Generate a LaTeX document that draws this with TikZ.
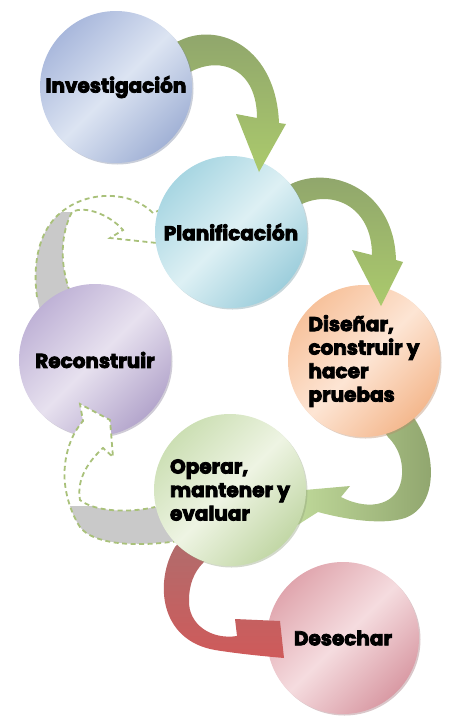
\documentclass[tikz,border=0pt]{standalone}
\usepackage{fontspec}
\setmainfont{Poppins}[BoldFeatures={FakeBold=4}]
\usetikzlibrary{shadows}
\definecolor{invA}{HTML}{A9B8DC}
\definecolor{invL}{HTML}{DCE4F2}
\definecolor{invD}{HTML}{A2B2D6}
\definecolor{plaA}{HTML}{A8D6E2}
\definecolor{plaL}{HTML}{DDF0F4}
\definecolor{plaD}{HTML}{9DCEDC}
\definecolor{desA}{HTML}{F7C29C}
\definecolor{desL}{HTML}{FDE5D4}
\definecolor{desD}{HTML}{F4B88E}
\definecolor{recA}{HTML}{BFB2D6}
\definecolor{recL}{HTML}{E7E1EF}
\definecolor{recD}{HTML}{B4A6CC}
\definecolor{opeA}{HTML}{CCDFB4}
\definecolor{opeL}{HTML}{EEF4E3}
\definecolor{opeD}{HTML}{C2D7A6}
\definecolor{dseA}{HTML}{E0A6AE}
\definecolor{dseL}{HTML}{F5DCDF}
\definecolor{dseD}{HTML}{D99AA4}
\definecolor{grnD}{HTML}{8EA36C}
\definecolor{grnL}{HTML}{ABCA6C}
\definecolor{grnP}{HTML}{C4DE9E}
\definecolor{redD}{HTML}{AE6E6E}
\definecolor{redL}{HTML}{CF5A5A}
\definecolor{ghostline}{HTML}{A9C17A}
\definecolor{ghostfill}{HTML}{C9C9C9}
\begin{document}
\begin{tikzpicture}[x=1pt,y=-1pt,
        bubble/.style n args={3}{circle,minimum size=152pt,inner sep=0pt,align=left,
            font=\bfseries\fontsize{20}{23.5}\selectfont,
            top color=#1,bottom color=#3,middle color=#2,shading angle=45,
            general shadow={fill=#3!75!black,opacity=.4,shadow xshift=1.5pt,shadow yshift=-1.5pt}},
        greenarrow/.style={top color=grnD,bottom color=grnL},
        ghost/.style={draw=ghostline,line width=1.8pt,dash pattern=on 5pt off 3.5pt}]

                \useasboundingbox (0,0) rectangle (456,724);

                \path[fill=white] (40,310) -- (37,297) .. controls (32,260) and (40,225) .. (67,208)
                    .. controls (90,192) and (130,190) .. (153,213) -- (167,207) -- (182,228) -- (157,243)
                    -- (110,238) -- (123,230) .. controls (110,215) and (85,205) .. (72,212)
                    .. controls (60,235) and (60,265) .. (70,292) -- (72,310) -- cycle;
                \begin{scope}
                    \clip (40,310) -- (37,297) .. controls (32,260) and (40,225) .. (67,208)
                        -- (72,212) .. controls (60,235) and (60,265) .. (70,292) -- (72,310) -- cycle;
                    \fill[ghostfill] (20,212) rectangle (100,320);
                \end{scope}
                \draw[ghost] (37,297) .. controls (32,260) and (40,225) .. (67,208)
                    .. controls (90,192) and (130,190) .. (153,213) -- (167,207) -- (182,228) -- (157,243)
                    -- (110,238) -- (123,230) .. controls (110,215) and (85,205) .. (72,212)
                    .. controls (60,235) and (60,265) .. (70,292);

                \node (rec) [bubble={recA}{recL}{recD}] at (95,360) {Reconstruir};

                \path[fill=white] (185,540) .. controls (130,548) and (92,543) .. (80,527)
                    .. controls (72,515) and (62,490) .. (65,465) .. controls (67,445) and (75,430) .. (83,421)
                    -- (80,404) -- (110,420) -- (113,457) -- (103,448)
                    .. controls (90,460) and (76,478) .. (80,500) .. controls (95,512) and (130,513) .. (155,507)
                    -- (165,503) -- cycle;
                \begin{scope}
                    \clip (185,540) .. controls (130,548) and (92,543) .. (80,527)
                        .. controls (72,515) and (62,490) .. (65,465) -- (80,500)
                        .. controls (95,512) and (130,513) .. (155,507) -- (165,503) -- cycle;
                    \fill[ghostfill] (60,506) rectangle (200,560);
                \end{scope}
                \draw[ghost] (178,541) .. controls (130,548) and (92,543) .. (80,527)
                    .. controls (72,515) and (62,490) .. (65,465) .. controls (67,445) and (75,430) .. (83,421)
                    -- (80,404) -- (110,420) -- (113,457) -- (103,448)
                    .. controls (90,460) and (76,478) .. (80,500) .. controls (95,512) and (130,513) .. (155,507);

                \shade[left color=grnP,right color=grnD] (405,410) -- (414,418)
                    .. controls (436,450) and (440,505) .. (405,518) .. controls (380,526) and (340,518) .. (318,512)
                    -- (296,526) -- (282,492) -- (350,486) -- (341,497)
                    .. controls (370,512) and (400,505) .. (402,475) .. controls (403,460) and (398,447) .. (388,437)
                    -- (380,425) -- cycle;

                \node (dse) [bubble={dseA}{dseL}{dseD}] at (343,638) {Desechar};

                \shade[top color=redD,bottom color=redL] (190,530) -- (175,547)
                    .. controls (155,580) and (158,640) .. (215,650) .. controls (240,654) and (262,656) .. (284,658)
                    -- (280,621) -- (235,619) -- (237,636)
                    .. controls (212,640) and (188,625) .. (189,600) .. controls (189,585) and (194,572) .. (203,563)
                    -- (212,552) -- cycle;

                \node (ope) [bubble={opeA}{opeL}{opeD}] at (230,490) {Operar,\\mantener y\\evaluar};
                \node (dis) [bubble={desA}{desL}{desD}] at (364,361) {Diseñar,\\construir y\\hacer\\pruebas};

                \shade[greenarrow] (283,190) -- (291,184) .. controls (330,165) and (394,188) .. (396,260)
                    -- (403,262) -- (381,306) -- (352,250) -- (372,255)
                    .. controls (372,205) and (330,188) .. (298,206) -- (290,210) -- cycle;

                \node (pla) [bubble={plaA}{plaL}{plaD}] at (231,232) {Planificación};

                \shade[greenarrow] (172,44) -- (181,40) .. controls (220,22) and (276,48) .. (279,123)
                    -- (286,124) -- (259,172) -- (236,114) -- (257,118)
                    .. controls (257,70) and (222,55) .. (190,72) -- (180,75) -- cycle;

                \node (inv) [bubble={invA}{invL}{invD}] at (116,87) {Investigación};
            \end{tikzpicture}
\end{document}
